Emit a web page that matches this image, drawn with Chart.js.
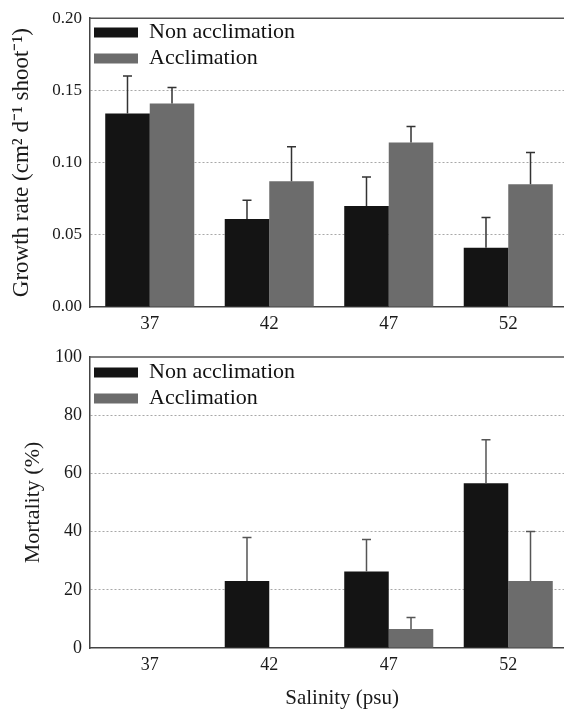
<!DOCTYPE html>
<html lang="en">
<head>
    <meta charset="UTF-8">
    <title>Growth rate and mortality vs salinity</title>
    <script src="https://cdn.jsdelivr.net/npm/chart.js@4.4.1/dist/chart.umd.min.js"></script>
    <style>
        html, body { margin: 0; padding: 0; background: #fff; overflow: hidden; }
        body { width: 564px; height: 711px; position: relative; }
        .chart-box { position: absolute; left: 0; width: 578px; }
        #growth-box { top: 0; height: 338px; }
        #mortality-box { top: 338px; height: 373px; }
    </style>
</head>
<body>
    <div class="chart-box" id="growth-box"><canvas id="growthChart"></canvas></div>
    <div class="chart-box" id="mortality-box"><canvas id="mortalityChart"></canvas></div>

    <script>
        // data
        const salinity = ['37', '42', '47', '52'];
        const growthNon = [0.134, 0.061, 0.070, 0.041];
        const growthNonErr = [0.026, 0.013, 0.020, 0.021];
        const growthAcc = [0.141, 0.087, 0.114, 0.085];
        const growthAccErr = [0.011, 0.024, 0.011, 0.022];
        const growthTicks = [0, 0.05, 0.10, 0.15, 0.20];

        const mortNon = [0, 23, 26.3, 56.6];
        const mortNonErr = [0, 15, 11, 15];
        const mortAcc = [0, 0, 6.5, 23];
        const mortAccErr = [0, 0, 4, 17];
        const mortTicks = [0, 20, 40, 60, 80, 100];

        const serif = "'Liberation Serif', 'Times New Roman', serif";
        const black = '#141414';
        const grey = '#6c6c6c';

        // one-sided error bars with a small cap, on top of each bar
        const errorBars = {
            id: 'errorBars',
            afterDatasetsDraw(chart, args, opts) {
                const ctx = chart.ctx;
                const yScale = chart.scales.y;
                ctx.save();
                ctx.strokeStyle = opts.color || '#333';
                ctx.lineWidth = 1.5;
                chart.data.datasets.forEach((ds, i) => {
                    const meta = chart.getDatasetMeta(i);
                    meta.data.forEach((bar, j) => {
                        const err = ds.errors[j];
                        if (!err) return;
                        const yTop = yScale.getPixelForValue(ds.data[j] + err);
                        ctx.beginPath();
                        ctx.moveTo(bar.x, bar.y);
                        ctx.lineTo(bar.x, yTop);
                        ctx.moveTo(bar.x - 4.5, yTop);
                        ctx.lineTo(bar.x + 4.5, yTop);
                        ctx.stroke();
                    });
                });
                ctx.restore();
            }
        };

        // top frame line
        const topFrame = {
            id: 'topFrame',
            afterDraw(chart) {
                const a = chart.chartArea;
                const ctx = chart.ctx;
                ctx.save();
                ctx.strokeStyle = '#555';
                ctx.lineWidth = 1.5;
                ctx.beginPath();
                ctx.moveTo(a.left, a.top);
                ctx.lineTo(a.right + 20, a.top);
                ctx.stroke();
                ctx.restore();
            }
        };

        function makeChart(canvasId, cfg) {
            const ctx = document.getElementById(canvasId).getContext('2d');
            return new Chart(ctx, {
                type: 'bar',
                data: {
                    labels: salinity,
                    datasets: [{
                        label: 'Non acclimation',
                        data: cfg.non,
                        errors: cfg.nonErr,
                        backgroundColor: black,
                        borderWidth: 0
                    }, {
                        label: 'Acclimation',
                        data: cfg.acc,
                        errors: cfg.accErr,
                        backgroundColor: grey,
                        borderWidth: 0
                    }]
                },
                options: {
                    responsive: true,
                    maintainAspectRatio: false,
                    animation: false,
                    layout: { padding: { top: cfg.padTop, right: 10, left: 0, bottom: 0 } },
                    datasets: { bar: { categoryPercentage: 0.745, barPercentage: 1.0 } },
                    scales: {
                        x: {
                            grid: { display: false, drawTicks: false },
                            border: { display: true, color: '#444', width: 1.5 },
                            ticks: { color: '#1a1a1a', padding: cfg.xPad, font: { family: serif, size: cfg.xTickSize } },
                            title: {
                                display: !!cfg.xTitle,
                                text: cfg.xTitle || '',
                                color: '#1a1a1a',
                                padding: { top: 0, bottom: 0 },
                                font: { family: serif, size: 21 }
                            },
                            afterFit: (scale) => { scale.height = cfg.xHeight; }
                        },
                        y: {
                            min: cfg.ticks[0],
                            max: cfg.ticks[cfg.ticks.length - 1],
                            afterBuildTicks: (scale) => { scale.ticks = cfg.ticks.map(v => ({ value: v })); },
                            grid: {
                                drawTicks: false,
                                color: (c) => (c.tick && (c.tick.value === cfg.ticks[0] || c.tick.value === cfg.ticks[cfg.ticks.length - 1])) ? 'rgba(0,0,0,0)' : '#a8a8a8',
                                lineWidth: 1
                            },
                            // in v4 border.dash also dashes the grid lines
                            border: { display: true, color: '#444', width: 1.5, dash: [2, 2] },
                            ticks: {
                                color: '#1a1a1a',
                                padding: 8,
                                font: { family: serif, size: cfg.yTickSize },
                                callback: cfg.fmt
                            },
                            title: {
                                display: true,
                                text: cfg.yTitle,
                                color: '#1a1a1a',
                                padding: { top: cfg.yTitlePad, bottom: 0 },
                                font: { family: serif, size: cfg.yTitleSize }
                            },
                            afterFit: (scale) => { scale.width = 90; }
                        }
                    },
                    plugins: {
                        legend: {
                            position: 'chartArea',
                            align: 'start',
                            // empty title only pushes the items down from the canvas top
                            title: { display: true, text: '', padding: { top: cfg.legendOffset, bottom: 0 }, font: { size: 1, lineHeight: 1 } },
                            labels: {
                                boxWidth: 44,
                                boxHeight: 10,
                                padding: 4,
                                color: '#111',
                                font: { family: serif, size: 22 }
                            }
                        },
                        tooltip: { enabled: false },
                        errorBars: { color: cfg.errColor }
                    }
                },
                plugins: [errorBars, topFrame]
            });
        }

        window.onload = function () {
            makeChart('growthChart', {
                non: growthNon, nonErr: growthNonErr,
                acc: growthAcc, accErr: growthAccErr,
                ticks: growthTicks,
                fmt: (v) => Number(v).toFixed(2),
                yTitle: 'Growth rate (cm\u00b2 d\u207b\u00b9 shoot\u207b\u00b9)',
                yTitleSize: 23,
                yTitlePad: 8,
                yTickSize: 17,
                xTickSize: 19,
                xPad: 6,
                xHeight: 31,
                padTop: 16,
                legendOffset: 16.5,
                errColor: '#333'
            });
            makeChart('mortalityChart', {
                non: mortNon, nonErr: mortNonErr,
                acc: mortAcc, accErr: mortAccErr,
                ticks: mortTicks,
                fmt: (v) => String(v),
                yTitle: 'Mortality (%)',
                yTitleSize: 22,
                yTitlePad: 20,
                yTickSize: 18,
                xTickSize: 18,
                xPad: 6,
                xHeight: 63,
                xTitle: '     Salinity (psu)',
                padTop: 19,
                legendOffset: 18.5,
                errColor: '#555'
            });
        };
    </script>
</body>
</html>
